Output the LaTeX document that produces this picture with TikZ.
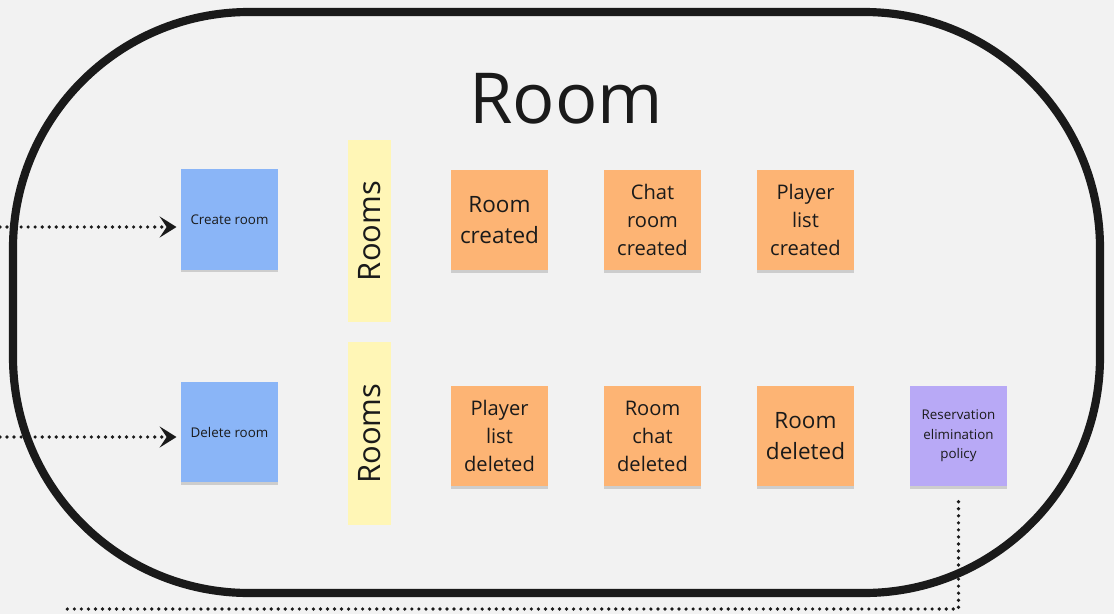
\documentclass[tikz,border=0pt]{standalone}
\usepackage{fontspec}
\setmainfont{Open Sans}
\usetikzlibrary{arrows.meta, positioning, shadows}

\definecolor{bgcol}{HTML}{F2F2F2}
\definecolor{inkcol}{HTML}{1A1A1A}
\definecolor{cmdcol}{HTML}{8AB5F7}
\definecolor{evtcol}{HTML}{FDB474}
\definecolor{aggcol}{HTML}{FFF6B6}
\definecolor{polcol}{HTML}{B8A9F6}

\tikzset{
  note/.style={minimum width=2.425cm, minimum height=2.5cm, inner sep=2pt, align=center, text=inkcol,
    drop shadow={shadow xshift=0pt, shadow yshift=-2pt, opacity=0.15, fill=black}},
  command/.style={note, fill=cmdcol, font=\fontsize{9.5}{13.8}\selectfont},
  policy/.style={note, fill=polcol, font=\fontsize{9.5}{13.8}\selectfont},
  event/.style={note, fill=evtcol, font=\fontsize{14.3}{19.9}\selectfont},
  bigevent/.style={event, font=\fontsize{16}{22}\selectfont},
  aggregate/.style={fill=aggcol, minimum width=1.075cm, minimum height=4.55cm, inner sep=0pt, text=inkcol,
    font=\fontsize{22}{26}\selectfont},
  flow/.style={draw=inkcol, line width=2.6pt, line cap=round, dash pattern=on 0pt off 5pt},
}

\begin{document}
\begin{tikzpicture}[x=0.025cm, y=-0.025cm]
\useasboundingbox[fill=bgcol] (0,0) rectangle (1114,614);

% Bounded context
\draw[inkcol, line width=5.8pt, rounded corners=5.9cm] (13,12) rectangle (1100,593);
\node[anchor=base, text=inkcol, font=\fontsize{50}{60}\selectfont] (title) at (566,123) {Room};

% Commands
\node[command] (create) at (229.5,219.5) {Create room};
\node[command] (delete) at (229.5,432) {Delete room};

% Aggregates
\node[aggregate] (rooms1) at (369.5,231) {\rotatebox{90}{Rooms}};
\node[aggregate] (rooms2) at (369.5,433.5) {\rotatebox{90}{Rooms}};

% Domain events
\node[bigevent] (roomcreated) at (499.5,220) {Room\\created};
\node[event] (chatcreated) at (652.5,220) {Chat\\room\\created};
\node[event] (listcreated) at (805.5,220) {Player\\list\\created};
\node[event] (listdeleted) at (499.5,436) {Player\\list\\deleted};
\node[event] (chatdeleted) at (652.5,436) {Room\\chat\\deleted};
\node[bigevent] (roomdeleted) at (805.5,436) {Room\\deleted};

% Policy
\node[policy] (elimination) at (958.5,436) {Reservation\\elimination\\policy};

% Connections
\coordinate (createin) at (0,227);
\coordinate (deletein) at (0,437);
\coordinate (policyout) at (62,609);
\draw[flow, -{Stealth[length=12pt, width=15pt, inset=5pt]}, shorten >=3pt] (createin) -- (createin -| create.west);
\draw[flow, -{Stealth[length=12pt, width=15pt, inset=5pt]}, shorten >=3pt] (deletein) -- (deletein -| delete.west);
\draw[flow, shorten <=11pt] (elimination.south) |- (policyout);
\end{tikzpicture}
\end{document}
